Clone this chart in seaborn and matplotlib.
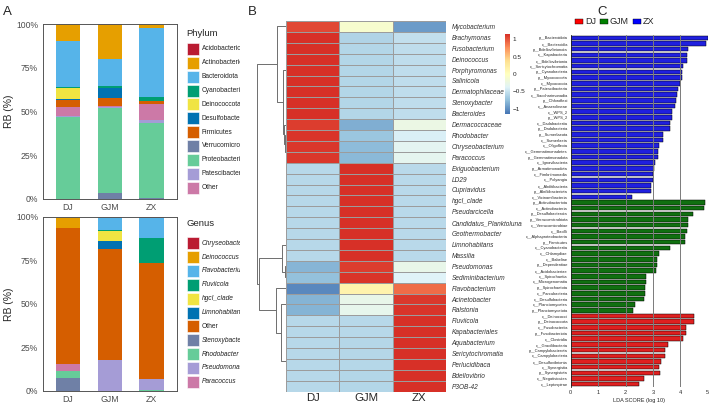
import numpy as np
import pandas as pd
import matplotlib
matplotlib.use("Agg")
import matplotlib.pyplot as plt
import seaborn as sns
from matplotlib.patches import Rectangle, Patch
from matplotlib.colors import LinearSegmentedColormap

W, H = 709, 404

# ---------------- data ----------------
samples = ["DJ", "GJM", "ZX"]

phyla = ["Acidobacteriota", "Actinobacteriota", "Bacteroidota", "Cyanobacteria",
         "Deinococcota", "Desulfobacterota", "Firmicutes", "Verrucomicrobiota",
         "Proteobacteria", "Patescibacteria", "Other"]
phylum_DJ = [0.0, 9.9, 26.3, 0.2, 6.4, 0.6, 3.8, 0.0, 46.7, 0.9, 5.2]
phylum_GJM = [0.6, 19.2, 15.8, 1.1, 0.0, 5.3, 5.1, 3.6, 48.6, 0.1, 0.6]
phylum_ZX = [0.0, 2.1, 39.5, 2.5, 0.0, 0.0, 1.7, 0.3, 42.9, 1.9, 9.1]

genera = ["Chryseobacterium", "Deinococcus", "Flavobacterium", "Fluviicola",
          "hgcI_clade", "Limnohabitans", "Other", "Stenoxybacter", "Rhodobacter",
          "Pseudomonas", "Paracoccus"]
genus_DJ = [0.0, 6.7, 0.0, 0.0, 0.0, 0.0, 77.7, 7.2, 4.2, 0.0, 4.2]
genus_GJM = [0.0, 0.0, 7.4, 0.6, 5.9, 4.6, 64.0, 0.0, 0.0, 17.5, 0.0]
genus_ZX = [1.0, 0.0, 11.0, 14.3, 0.0, 0.0, 67.1, 0.0, 0.5, 6.1, 0.0]

heat_rows = ["Mycobacterium", "Brachymonas", "Fusobacterium", "Deinococcus",
             "Porphyromonas", "Salinicola", "Dermatophilaceae", "Stenoxybacter",
             "Bacteroides", "Dermacoccaceae", "Rhodobacter", "Chryseobacterium",
             "Paracoccus", "Exiguobacterium", "LD29", "Cupriavidus", "hgcI_clade",
             "Pseudarcicella", "Candidatus_Planktoluna", "Geothermobacter",
             "Limnohabitans", "Massilia", "Pseudomonas", "Sediminibacterium",
             "Flavobacterium", "Acinetobacter", "Ralstonia", "Fluviicola",
             "Kapabacteriales", "Aquabacterium", "Sericytochromatia",
             "Perlucidibaca", "Bdellovibrio", "P3OB-42"]
heat_DJ = [1.05, 1.15, 1.15, 1.15, 1.15, 1.15, 1.15, 1.15, 1.15,
           1.10, 1.13, 1.12, 1.12,
           -0.58, -0.58, -0.58, -0.58, -0.58, -0.58, -0.58, -0.58, -0.58,
           -0.82, -0.75,
           -1.05, -0.83, -0.83,
           -0.58, -0.58, -0.58, -0.58, -0.58, -0.58, -0.58]
heat_GJM = [-0.10, -0.62, -0.60, -0.60, -0.60, -0.60, -0.60, -0.60, -0.60,
            -0.85, -0.72, -0.78, -0.80,
            1.155, 1.155, 1.155, 1.155, 1.155, 1.155, 1.155, 1.155, 1.155,
            1.10, 1.13,
            0.15, -0.28, -0.30,
            -0.58, -0.58, -0.59, -0.59, -0.59, -0.60, -0.60]
heat_ZX = [-0.95, -0.53, -0.55, -0.55, -0.55, -0.55, -0.55, -0.55, -0.55,
           -0.25, -0.41, -0.34, -0.32,
           -0.575, -0.575, -0.575, -0.575, -0.575, -0.575, -0.575, -0.575, -0.575,
           -0.28, -0.38,
           0.90, 1.11, 1.13,
           1.155, 1.155, 1.155, 1.155, 1.155, 1.155, 1.155]
cbar_ticks = [1, 0.5, 0, -0.5, -1]
cbar_labels = ["1", "0.5", "0", "\u22120.5", "\u22121"]

zx_feat = ["p__Bacteroidota", "c__Bacteroidia", "p__Bdellovibrionota", "c__Kapabacteria",
           "c__Bdellovibrionia", "c__Sericytochromatia", "p__Cyanobacteria", "p__Myxococcota",
           "c__Myxococcia", "p__Patescibacteria", "c__Saccharimonadia", "p__Chloroflexi",
           "c__Anaerolineae", "c__WPS_2", "p__WPS_2", "c__Dadabacteriia", "p__Dadabacteria",
           "p__Sumerlaeota", "c__Sumerlaeia", "c__Oligoflexia", "c__Gemmatimonadetes",
           "p__Gemmatimonadota", "c__Ignavibacteria", "p__Armatimonadota",
           "c__Fimbriimonadia", "c__Polyangia", "c__Abditibacteria", "p__Abditibacteriota",
           "c__Vicinamibacteria"]
zx_lda = [5.00, 4.93, 4.27, 4.23, 4.23, 4.11, 4.06, 4.05, 3.99, 3.90, 3.87, 3.84, 3.81,
          3.69, 3.68, 3.64, 3.61, 3.38, 3.38, 3.21, 3.19, 3.19, 3.07, 3.03, 3.02, 3.00,
          2.92, 2.92, 2.25]
gjm_feat = ["p__Actinobacteriota", "c__Actinobacteria", "p__Desulfobacterota",
            "p__Verrucomicrobiota", "c__Verrucomicrobiae", "c__Bacilli",
            "c__Alphaproteobacteria", "p__Firmicutes", "c__Cyanobacteriia", "c__Chlamydiae",
            "c__Babeliae", "p__Dependentiae", "c__Acidobacteriae", "c__Spirochaetia",
            "c__Microgenomatia", "p__Spirochaetota", "c__Parcubacteria", "c__Desulfobacteria",
            "c__Planctomycetes", "p__Planctomycetota"]
gjm_lda = [4.89, 4.87, 4.48, 4.28, 4.27, 4.25, 4.18, 4.16, 3.63, 3.21, 3.16, 3.16, 3.11,
           2.75, 2.74, 2.72, 2.71, 2.69, 2.34, 2.26]
dj_feat = ["c__Deinococci", "p__Deinococcota", "c__Fusobacteriia", "p__Fusobacteriota",
           "c__Clostridia", "c__Gracilibacteria", "p__Campylobacterota",
           "c__Campylobacteria", "c__Desulfovibrionia", "c__Synergistia",
           "p__Synergistota", "c__Negativicutes", "c__Leptospirae"]
dj_lda = [4.50, 4.50, 4.19, 4.19, 4.11, 3.54, 3.43, 3.43, 3.28, 3.24, 3.25, 2.69, 2.51]

# ---------------- style ----------------
sns.set_theme(style="white")
plt.rcParams["font.family"] = ["Liberation Sans", "DejaVu Sans"]

pal = ["#BA1B32", "#E69F00", "#56B4E9", "#009E73", "#F0E442", "#0072B2",
       "#D55E00", "#6F80A6", "#66CC99", "#A59CD6", "#CC79A7"]
stack_order = [7, 8, 9, 10, 6, 5, 4, 3, 2, 1, 0]

fig = plt.figure(figsize=(W / 100, H / 100), dpi=100)


def px_axes(l, t, r, b):
    return fig.add_axes([l / W, 1 - b / H, (r - l) / W, (b - t) / H])


# ---------------- panel A ----------------
def stacked(ax, cols):
    vals = np.array(cols)  # samples x taxa
    bottoms = np.zeros(len(samples))
    x = np.arange(len(samples))
    for k in stack_order:
        ax.bar(x, vals[:, k] / 100.0, bottom=bottoms, width=0.58, color=pal[k],
               linewidth=0)
        bottoms += vals[:, k] / 100.0
    ax.set_xlim(-0.6, 2.6)
    ax.set_ylim(0, 1)
    ax.set_xticks(x)
    ax.set_xticklabels(samples, fontsize=6.3, color="#4d4d4d")
    ax.set_yticks([0, 0.25, 0.5, 0.75, 1.0])
    ax.set_yticklabels(["0%", "25%", "50%", "75%", "100%"], fontsize=6.2, color="#4d4d4d")
    ax.tick_params(axis="both", length=2.2, width=0.6, color="#333333", pad=1.2)
    ax.tick_params(axis="x", pad=0.6)
    for s in ax.spines.values():
        s.set_color("#555555")
        s.set_linewidth(0.7)
    ax.set_ylabel("RB (%)", fontsize=7.5, labelpad=1.5)


axA1 = px_axes(42.7, 24, 176.7, 199)
stacked(axA1, [phylum_DJ, phylum_GJM, phylum_ZX])
axA2 = px_axes(42.7, 216.7, 176.7, 391)
stacked(axA2, [genus_DJ, genus_GJM, genus_ZX])

# legends of panel A (clipped at panel border like the reference)
axL = px_axes(183, 0, 240, 404)
axL.set_xlim(183, 240)
axL.set_ylim(404, 0)
axL.axis("off")


def draw_legend(title, labels, y_title, y0, italic):
    axL.text(186.5, y_title, title, fontsize=6.8, va="center", ha="left", clip_on=True)
    for i, lab in enumerate(labels):
        yc = y0 + 13.85 * i
        axL.add_patch(Rectangle((186.7, yc - 6), 12.3, 12, facecolor=pal[i],
                                edgecolor="white", linewidth=0.4))
        style = "italic" if (italic and lab != "Other") else "normal"
        axL.text(201.5, yc, lab, fontsize=4.8, va="center", ha="left",
                 style=style, clip_on=True, color="#222222")


draw_legend("Phylum", phyla, 33, 49, False)
draw_legend("Genus", genera, 224, 243.3, True)

# ---------------- panel B ----------------
hm_df = pd.DataFrame({"DJ": heat_DJ, "GJM": heat_GJM, "ZX": heat_ZX}, index=heat_rows)
cmap = LinearSegmentedColormap.from_list(
    "ph", ["#4575B4", "#91BFDB", "#E0F3F8", "#FFFFBF", "#FEE090", "#FC8D59", "#D73027"])

axH = px_axes(286, 21, 446, 391.7)
axCB = px_axes(505, 34, 510, 114)
sns.heatmap(hm_df, ax=axH, cmap=cmap, vmin=-1.155, vmax=1.155, linewidths=0.6,
            linecolor="#9c9c9c", cbar_ax=axCB, xticklabels=True, yticklabels=True)
axH.yaxis.tick_right()
axH.set_yticklabels(heat_rows, rotation=0, fontsize=4.7, style="italic", color="#333333")
axH.set_xticklabels(samples, rotation=0, fontsize=8.2)
axH.tick_params(axis="x", length=0, pad=0.8)
axH.tick_params(axis="y", length=0, pad=4)
cb = axH.collections[0].colorbar
cb.set_ticks(cbar_ticks)
cb.set_ticklabels(cbar_labels)
cb.ax.tick_params(labelsize=4.6, length=0, pad=2)
cb.outline.set_visible(False)

# row dendrogram (adjacency-constrained average linkage on the scaled rows)
X = hm_df.values
D = np.sqrt(((X[:, None, :] - X[None, :, :]) ** 2).sum(-1))
clusters = [[i] for i in range(len(X))]
pos = [i + 0.5 for i in range(len(X))]
hts = [0.0] * len(X)
segs = []
h = 0
while len(clusters) > 1:
    d = [D[np.ix_(clusters[k], clusters[k + 1])].mean() for k in range(len(clusters) - 1)]
    k = int(np.argmin(d))
    h = max(d[k], hts[k], hts[k + 1])
    segs.append(([hts[k], h, h, hts[k + 1]], [pos[k], pos[k], pos[k + 1], pos[k + 1]]))
    clusters[k] = clusters[k] + clusters.pop(k + 1)
    pos[k] = (pos[k] + pos.pop(k + 1)) / 2
    hts[k] = h
    hts.pop(k + 1)

axD = px_axes(256, 21, 286, 391.7)
for xs, ys in segs:
    axD.plot(xs, ys, color="#6e6e6e", lw=0.7, solid_capstyle="butt")
axD.set_xlim(h * 1.03, 0)
axD.set_ylim(len(X), 0)
axD.axis("off")

# ---------------- panel C ----------------
lda_df = pd.DataFrame({
    "feature": zx_feat + gjm_feat + dj_feat,
    "lda": zx_lda + gjm_lda + dj_lda,
    "group": ["ZX"] * len(zx_feat) + ["GJM"] * len(gjm_feat) + ["DJ"] * len(dj_feat),
})
cpal = {"DJ": "#FF0000", "GJM": "#008000", "ZX": "#0000FF"}
axC = px_axes(570.7, 35, 707.7, 387)
sns.barplot(data=lda_df, x="lda", y="feature", hue="group", palette=cpal, dodge=False,
            orient="h", edgecolor="black", linewidth=0.35, width=0.8, legend=False, ax=axC)
axC.set_xlim(0, 5)
for v in range(1, 6):
    axC.axvline(v, color="#7a7a7a", lw=0.7, zorder=5)
for s in ["top", "right"]:
    axC.spines[s].set_visible(False)
axC.spines["left"].set_color("#222222")
axC.spines["left"].set_linewidth(0.6)
axC.spines["bottom"].set_visible(False)
axC.tick_params(axis="y", length=0, labelsize=2.9, pad=2)
axC.tick_params(axis="x", length=1.5, width=0.4, labelsize=4, pad=1)
axC.set_xticks([0, 1, 2, 3, 4, 5])
axC.set_ylabel("")
axC.set_xlabel("LDA SCORE (log 10)", fontsize=4, labelpad=2)
handles = [Patch(facecolor=cpal[g], edgecolor="black", linewidth=0.3) for g in samples]
fig.legend(handles, samples, loc="center left", bbox_to_anchor=(569 / W, 1 - 22 / H),
           ncol=3, frameon=False, fontsize=6.5, handlelength=0.9, handleheight=0.55,
           handletextpad=0.15, columnspacing=0.5, borderpad=0.2)

# panel letters
fig.text(3 / W, 1 - 12 / H, "A", fontsize=9.5, va="center", ha="left")
fig.text(248 / W, 1 - 12 / H, "B", fontsize=9.5, va="center", ha="left")
fig.text(597 / W, 1 - 12 / H, "C", fontsize=9.5, va="center", ha="left")

fig.savefig("out.png", dpi=100)
